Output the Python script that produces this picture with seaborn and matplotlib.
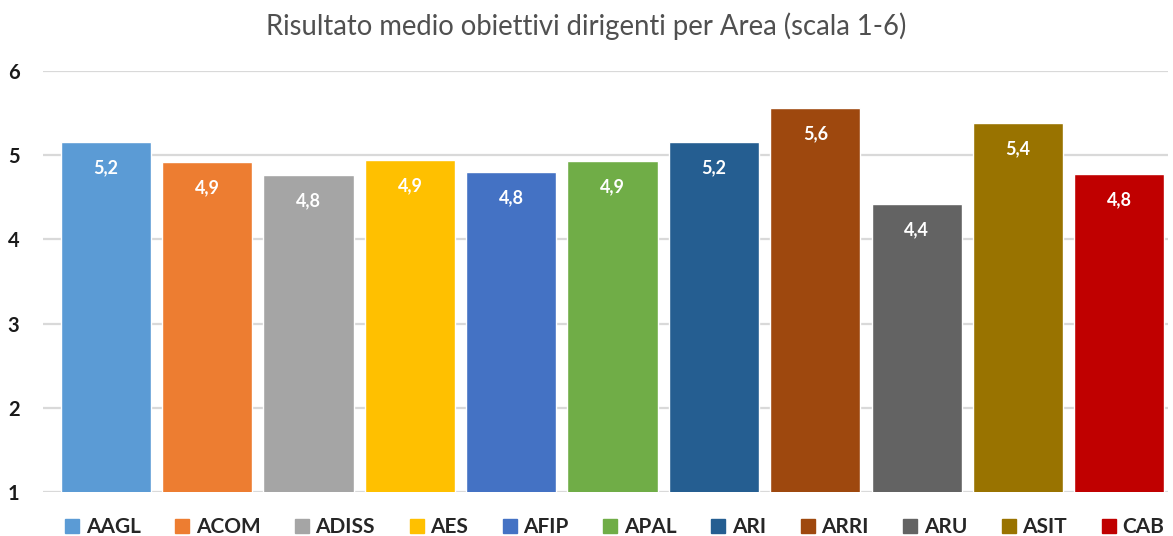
import matplotlib
matplotlib.use("Agg")
import matplotlib.pyplot as plt
from matplotlib.lines import Line2D
import seaborn as sns
import pandas as pd

# Mean objective score per area (scale 1-6)
areas = ["AAGL", "ACOM", "ADISS", "AES", "AFIP", "APAL", "ARI", "ARRI", "ARU", "ASIT", "CAB"]
scores = [5.16, 4.92, 4.76, 4.94, 4.80, 4.93, 5.16, 5.56, 4.42, 5.38, 4.78]
colors = ["#5B9BD5", "#ED7D31", "#A5A5A5", "#FFC000", "#4472C4", "#70AD47",
          "#255E91", "#9E480E", "#636363", "#997300", "#C00000"]
yticks = [1, 2, 3, 4, 5, 6]
title = "Risultato medio obiettivi dirigenti per Area (scala 1-6)"

sns.set_theme(style="white")
plt.rcParams["font.family"] = ["Lato", "DejaVu Sans"]

df = pd.DataFrame({"Area": areas, "Risultato": scores})

W, H = 1173, 536
fig = plt.figure(figsize=(W / 100, H / 100), dpi=100)
ax = fig.add_axes([43 / W, 1 - 492 / H, 1125 / W, (492 - 71) / H])

sns.barplot(data=df, x="Area", y="Risultato", hue="Area", palette=colors,
            dodge=False, width=0.89, legend=False, saturation=1, ax=ax, zorder=3)

ax.set_ylim(1, 6)
ax.set_xlim(-0.62, len(areas) - 0.52)
ax.set_yticks(yticks)
ax.set_yticklabels([str(t) for t in yticks], fontsize=14.5, fontweight="bold", color="#1a1a1a")
ax.tick_params(axis="y", length=0, pad=17)
ax.set_xticks([])
ax.set_xlabel("")
ax.set_ylabel("")
for s in ax.spines.values():
    s.set_visible(False)
ax.yaxis.grid(True, color="#D9D9D9", linewidth=1.6, zorder=0)
ax.set_axisbelow(True)

# value labels inside the top of each bar
for i, v in enumerate(scores):
    ax.annotate(f"{v:.1f}".replace(".", ","), xy=(i, v), xytext=(0, -18.5),
                textcoords="offset points", ha="center", va="center",
                fontsize=13, fontweight="bold", color="white", zorder=5)

fig.text(0.5, 1 - 26 / H, title, ha="center", va="center", fontsize=19.8, color="#505050")

handles = [Line2D([0], [0], marker="s", linestyle="none", markersize=9.5,
                  markerfacecolor=c, markeredgecolor=c) for c in colors]
fig.legend(handles, areas, loc="center", bbox_to_anchor=(0.5225, 1 - 527 / H),
           ncol=len(areas), frameon=False, handletextpad=0.15, columnspacing=1.5,
           handlelength=1.0, borderpad=0, borderaxespad=0,
           prop={"size": 15, "weight": "bold"})

fig.savefig("out.png", dpi=100, facecolor="white")
